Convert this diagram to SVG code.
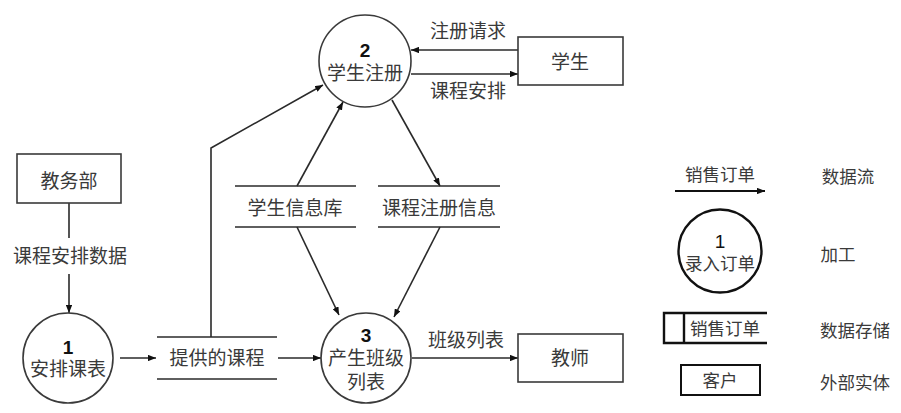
<svg xmlns="http://www.w3.org/2000/svg" width="901" height="413" viewBox="0 0 901 413">
<style>
text{font-family:"Liberation Sans","Noto Sans CJK SC",sans-serif;fill:#3a3a3a;font-size:19px;text-anchor:middle;dominant-baseline:central}
.num{font-size:19px;fill:#111;font-weight:bold}
.lg{font-size:17.5px}
.ln{stroke:#2a2a2a;stroke-width:1.6;fill:none}
.shape{stroke:#3a3a3a;stroke-width:1.6;fill:#fff}
.thick{stroke:#111;stroke-width:2.4;fill:none}
</style>
<defs>
<marker id="ah" viewBox="0 0 10 8" refX="10" refY="4" markerWidth="8" markerHeight="6.4" markerUnits="userSpaceOnUse" orient="auto">
<path d="M0,0 L10,4 L0,8 z" fill="#111"/>
</marker>
</defs>
<rect width="901" height="413" fill="#fff"/>

<g id="connectors">
<line class="ln" x1="518" y1="50" x2="411" y2="50" marker-end="url(#ah)"/>
<line class="ln" x1="411" y1="74" x2="518" y2="74" marker-end="url(#ah)"/>
<line class="ln" x1="69" y1="203" x2="69" y2="238"/>
<line class="ln" x1="69" y1="274" x2="69" y2="313" marker-end="url(#ah)"/>
<line class="ln" x1="120" y1="358" x2="156" y2="358" marker-end="url(#ah)"/>
<polyline class="ln" points="211,337 211,148 323,85" marker-end="url(#ah)"/>
<line class="ln" x1="297" y1="186" x2="343" y2="102" marker-end="url(#ah)"/>
<line class="ln" x1="392" y1="100" x2="440" y2="186" marker-end="url(#ah)"/>
<line class="ln" x1="297" y1="227" x2="339" y2="315" marker-end="url(#ah)"/>
<line class="ln" x1="440" y1="227" x2="394" y2="317" marker-end="url(#ah)"/>
<line class="ln" x1="278" y1="358" x2="321" y2="358" marker-end="url(#ah)"/>
<line class="ln" x1="412" y1="358" x2="518" y2="358" marker-end="url(#ah)"/>
<text x="468" y="31">注册请求</text>
<text x="468" y="91">课程安排</text>
<text x="70" y="256">课程安排数据</text>
<text x="466" y="340">班级列表</text>
</g>

<g id="p2">
<circle class="shape" cx="365" cy="61" r="46"/>
<text class="num" x="365" y="50">2</text>
<text x="365" y="73">学生注册</text>
</g>
<g id="student">
<rect class="shape" x="518" y="37" width="105" height="48"/>
<text x="570" y="62">学生</text>
</g>
<g id="jiaowubu">
<rect class="shape" x="17" y="154" width="104" height="49"/>
<text x="69" y="181">教务部</text>
</g>
<g id="p1">
<circle class="shape" cx="68" cy="358" r="45"/>
<text class="num" x="68" y="347">1</text>
<text x="68" y="369">安排课表</text>
</g>
<g id="store-courses">
<line class="ln" x1="157" y1="337" x2="277" y2="337"/>
<line class="ln" x1="157" y1="379" x2="277" y2="379"/>
<text x="217" y="358">提供的课程</text>
</g>
<g id="store-students">
<line class="ln" x1="235" y1="186" x2="356" y2="186"/>
<line class="ln" x1="235" y1="227" x2="356" y2="227"/>
<text x="295" y="208">学生信息库</text>
</g>
<g id="store-reg">
<line class="ln" x1="378" y1="186" x2="500" y2="186"/>
<line class="ln" x1="378" y1="227" x2="500" y2="227"/>
<text x="439" y="208">课程注册信息</text>
</g>
<g id="p3">
<circle class="shape" cx="366" cy="358" r="45"/>
<text class="num" x="366" y="335">3</text>
<text x="366" y="358">产生班级</text>
<text x="366" y="382">列表</text>
</g>
<g id="teacher">
<rect class="shape" x="518" y="334" width="105" height="48"/>
<text x="570" y="358">教师</text>
</g>

<g id="legend">
<text class="lg" x="720" y="175">销售订单</text>
<line x1="675" y1="191" x2="765" y2="191" stroke="#111" stroke-width="2" marker-end="url(#ah)"/>
<text class="lg" x="848" y="177">数据流</text>
<circle cx="720" cy="251" r="41.5" stroke="#111" stroke-width="2.4" fill="none"/>
<text class="num" x="720" y="241" style="font-weight:normal">1</text>
<text class="lg" x="720" y="264">录入订单</text>
<text class="lg" x="838" y="255">加工</text>
<path class="thick" d="M767,313 H664 V343 H767 M684,313 V343"/>
<text class="lg" x="725" y="329">销售订单</text>
<text class="lg" x="855" y="331">数据存储</text>
<rect x="681" y="365" width="79" height="30" stroke="#111" stroke-width="2" fill="none"/>
<text class="lg" x="720" y="381">客户</text>
<text class="lg" x="855" y="383">外部实体</text>
</g>
</svg>
